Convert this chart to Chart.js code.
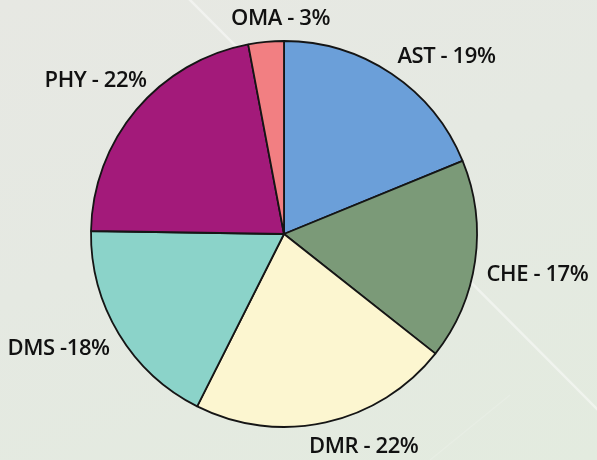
<!DOCTYPE html>
<html>
<head>
<meta charset="utf-8">
<script src="https://cdn.jsdelivr.net/npm/chart.js@4.4.0/dist/chart.umd.min.js"></script>
<style>
  html, body { margin: 0; padding: 0; }
  body {
    width: 597px; height: 460px; overflow: hidden;
    background: linear-gradient(160deg, #e7e8e3 0%, #e5e9e2 45%, #e3ebdf 100%);
  }
  #wrap { position: relative; width: 597px; height: 460px; }
</style>
</head>
<body>
<div id="wrap"><canvas id="c" width="597" height="460"></canvas></div>
<script>
const categories = ["AST", "CHE", "DMR", "DMS", "PHY", "OMA"];
const values = [19, 17, 22, 18, 22, 3];
const labelTexts = ["AST - 19%", "CHE - 17%", "DMR - 22%", "DMS -18%", "PHY - 22%", "OMA - 3%"];
const colors = ["#6b9fd9", "#7b9a78", "#fcf6d0", "#8bd3c9", "#a31a7a", "#f27f82"];

const backgroundPlugin = {
  id: 'bgStreak',
  beforeDraw(chart) {
    const ctx = chart.ctx;
    ctx.save();
    ctx.strokeStyle = 'rgba(255,255,255,0.45)';
    ctx.lineWidth = 2.5;
    ctx.beginPath();
    ctx.moveTo(188, -2);
    ctx.lineTo(600, 412);
    ctx.stroke();
    ctx.strokeStyle = 'rgba(255,255,255,0.15)';
    ctx.lineWidth = 1.5;
    ctx.beginPath();
    ctx.moveTo(430, 460);
    ctx.lineTo(510, 395);
    ctx.stroke();
    ctx.restore();
  }
};

const outsideLabels = {
  id: 'outsideLabels',
  afterDatasetsDraw(chart, args, opts) {
    const ctx = chart.ctx;
    const meta = chart.getDatasetMeta(0);
    ctx.save();
    ctx.font = opts.font;
    if ('letterSpacing' in ctx) ctx.letterSpacing = opts.letterSpacing;
    ctx.fillStyle = opts.color;
    ctx.textAlign = 'center';
    ctx.textBaseline = 'middle';
    meta.data.forEach((arc, i) => {
      const p = arc.getProps(['x', 'y', 'startAngle', 'endAngle', 'outerRadius'], true);
      const mid = (p.startAngle + p.endAngle) / 2;
      const dx = Math.cos(mid), dy = Math.sin(mid);
      const text = opts.texts[i];
      const w = ctx.measureText(text).width;
      const r = p.outerRadius + opts.gap;
      const n = opts.nudges[i] || [0, 0];
      const cx = p.x + r * dx + (w / 2) * dx + n[0];
      const cy = p.y + r * dy + 10 * dy + n[1];
      ctx.fillText(text, cx, cy);
    });
    ctx.restore();
  }
};

new Chart(document.getElementById('c'), {
  type: 'pie',
  data: {
    labels: categories,
    datasets: [{
      data: values,
      backgroundColor: colors,
      borderColor: '#151515',
      borderWidth: 1.8,
      hoverOffset: 0
    }]
  },
  options: {
    responsive: false,
    animation: false,
    radius: 193,
    layout: { padding: { top: 41, bottom: 33, left: 0, right: 29 } },
    plugins: {
      legend: { display: false },
      tooltip: { enabled: false },
      outsideLabels: {
        texts: labelTexts,
        font: '600 22px "Open Sans"',
        letterSpacing: '-0.4px',
        color: '#111',
        gap: 10,
        nudges: [[22, 0], [2, 11], [24, 5], [-8, 4], [6, -16], [20, -3]]
      }
    }
  },
  plugins: [backgroundPlugin, outsideLabels]
});
</script>
</body>
</html>
